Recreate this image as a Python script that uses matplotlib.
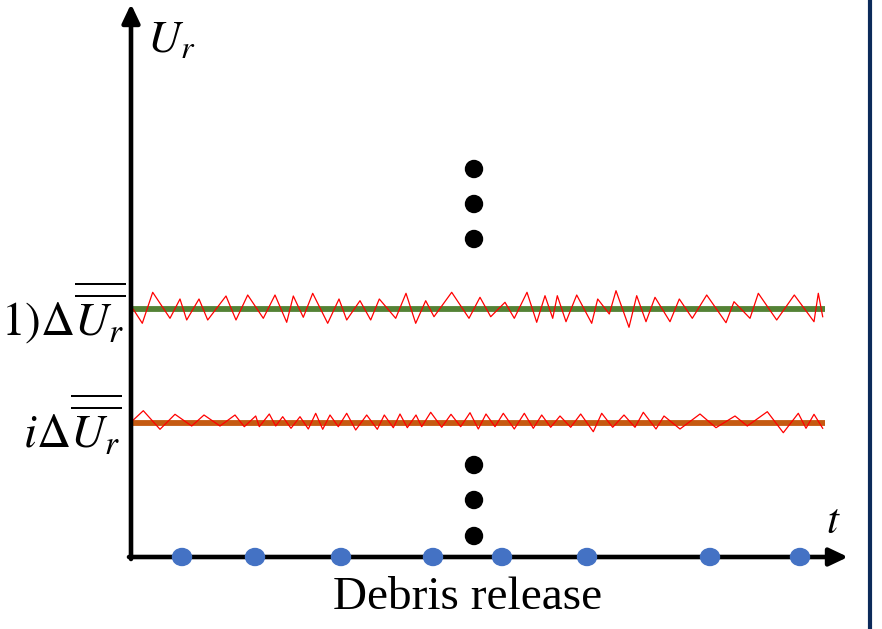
import matplotlib
matplotlib.use("Agg")
import matplotlib.pyplot as plt
from matplotlib.patches import Ellipse

plt.rcParams["mathtext.fontset"] = "stix"

W, H = 882, 629

# Axis geometry (canvas units, y grows downward)
origin = (131, 557)
t_end = 848
u_end = 4

# Release instants of debris along the t axis
release_t = [182, 255, 341, 433, 502, 587, 710, 800]

# Mean velocity levels
level_i1 = 309   # (i+1) * dU
level_i = 423    # i * dU
level_t = [133, 825]

# Ellipsis markers (levels above and below)
dots_t = 474
dots_upper = [169, 204, 239]
dots_lower = [465, 500, 536]

# Instantaneous velocity around level (i+1)
hi_t = [133.3, 142.3, 152.7, 170.0, 180.0, 186.7, 199.0, 207.7, 226.0, 236.0,
        247.7, 263.3, 275.0, 286.7, 293.3, 303.3, 312.7, 327.7, 339.0, 346.7,
        360.0, 370.7, 379.3, 395.7, 406.0, 415.7, 425.7, 434.0, 451.7, 469.0,
        480.0, 490.7, 505.0, 514.3, 527.0, 536.7, 545.0, 552.7, 557.3, 566.0,
        576.7, 591.7, 597.7, 609.3, 616.0, 629.0, 636.7, 646.0, 655.0, 670.0,
        679.3, 692.3, 706.7, 726.0, 734.0, 750.0, 758.3, 776.7, 794.3, 814.0,
        818.3, 822.7]
hi_u = [309.3, 323.3, 292.3, 318.3, 299.0, 320.0, 299.0, 320.0, 296.0, 320.0,
        295.0, 318.3, 295.0, 322.3, 296.0, 317.3, 293.3, 323.3, 299.0, 320.0,
        300.7, 320.0, 299.0, 318.3, 293.3, 323.3, 300.7, 316.7, 292.3, 318.3,
        297.3, 316.7, 302.3, 318.3, 292.3, 322.3, 295.7, 318.3, 295.7, 321.7,
        295.0, 323.3, 299.0, 314.0, 290.7, 327.3, 295.7, 321.7, 297.3, 321.7,
        299.0, 318.3, 295.0, 322.7, 301.7, 318.3, 293.3, 320.0, 295.0, 321.7,
        293.3, 316.7]

# Instantaneous velocity around level i
lo_t = [133.3, 143.3, 160.0, 175.0, 191.7, 204.0, 220.0, 235.0, 244.3, 255.7,
        259.3, 269.3, 275.7, 282.7, 291.0, 300.0, 308.3, 315.7, 322.7, 330.0,
        338.3, 346.7, 355.7, 366.7, 377.3, 384.3, 393.3, 400.0, 407.3, 416.0,
        421.7, 430.7, 441.7, 451.0, 460.7, 470.0, 478.3, 486.0, 495.0, 503.3,
        514.3, 524.3, 533.3, 541.7, 550.7, 560.0, 570.7, 580.7, 593.3, 601.7,
        612.7, 624.0, 635.0, 643.3, 656.0, 664.0, 680.0, 700.0, 716.0, 735.0,
        747.3, 767.3, 783.3, 798.3, 806.0, 814.0, 822.7]
lo_u = [420.0, 410.7, 429.3, 414.3, 426.0, 415.0, 426.0, 415.0, 426.7, 416.0,
        426.7, 414.0, 426.0, 416.7, 428.3, 416.7, 429.0, 413.3, 429.3, 415.0,
        426.7, 413.3, 430.0, 415.0, 429.3, 415.0, 427.7, 414.0, 427.7, 415.0,
        426.7, 412.3, 427.3, 414.3, 426.7, 412.7, 429.0, 414.0, 426.7, 413.3,
        429.0, 413.3, 428.3, 415.0, 427.3, 416.0, 427.3, 414.0, 431.7, 413.3,
        427.3, 415.0, 427.3, 412.3, 429.0, 416.0, 429.0, 414.0, 427.7, 416.0,
        426.0, 411.7, 432.7, 413.3, 428.3, 414.3, 428.3]

fig = plt.figure(figsize=(W / 100, H / 100), dpi=100)
ax = fig.add_axes([0, 0, 1, 1])
ax.set_xlim(0, W)
ax.set_ylim(H, 0)
ax.axis("off")

# Mean levels and fluctuating signals
ax.plot(level_t, [level_i1, level_i1], color="#548235", lw=4.2,
        solid_capstyle="butt", zorder=2)
ax.plot(level_t, [level_i, level_i], color="#C55A11", lw=4.2,
        solid_capstyle="butt", zorder=2)
ax.plot(hi_t, hi_u, color="#FF0000", lw=0.9, zorder=3)
ax.plot(lo_t, lo_u, color="#FF0000", lw=0.9, zorder=3)

# Axes with arrow heads
arrow = dict(arrowstyle="-|>,head_length=0.8,head_width=0.38",
             lw=3.3, color="black", mutation_scale=14, shrinkA=0, shrinkB=0)
ax.annotate("", xy=(origin[0], u_end), xytext=(origin[0], origin[1] + 2),
            arrowprops=arrow, zorder=4)
ax.annotate("", xy=(t_end, origin[1]), xytext=(origin[0] - 2, origin[1]),
            arrowprops=arrow, zorder=4)

# Debris release instants
for t in release_t:
    ax.add_patch(Ellipse((t, origin[1]), 19, 17, color="#4472C4", zorder=5))

# Ellipsis dots
for u in dots_upper + dots_lower:
    ax.add_patch(Ellipse((dots_t, u), 17, 17, color="black", zorder=5))

# Right-hand frame line
ax.plot([869.5, 869.5], [0, H], color="#0C2A5A", lw=3.0,
        solid_capstyle="butt")

# Labels
ax.text(147, 40, r"$U_r$", fontsize=33, ha="left", va="center")
ax.text(826, 521, r"$t$", fontsize=31, ha="left", va="center")
ax.text(126, 313, r"$1)\Delta\overline{\overline{U_r}}$", fontsize=34,
        ha="right", va="center")
ax.text(121, 425, r"$i\Delta\overline{\overline{U_r}}$", fontsize=34,
        ha="right", va="center")
ax.text(468, 598, "Debris release", fontsize=34, family="Liberation Serif",
        ha="center", va="center")

fig.savefig("out.png", dpi=100)
